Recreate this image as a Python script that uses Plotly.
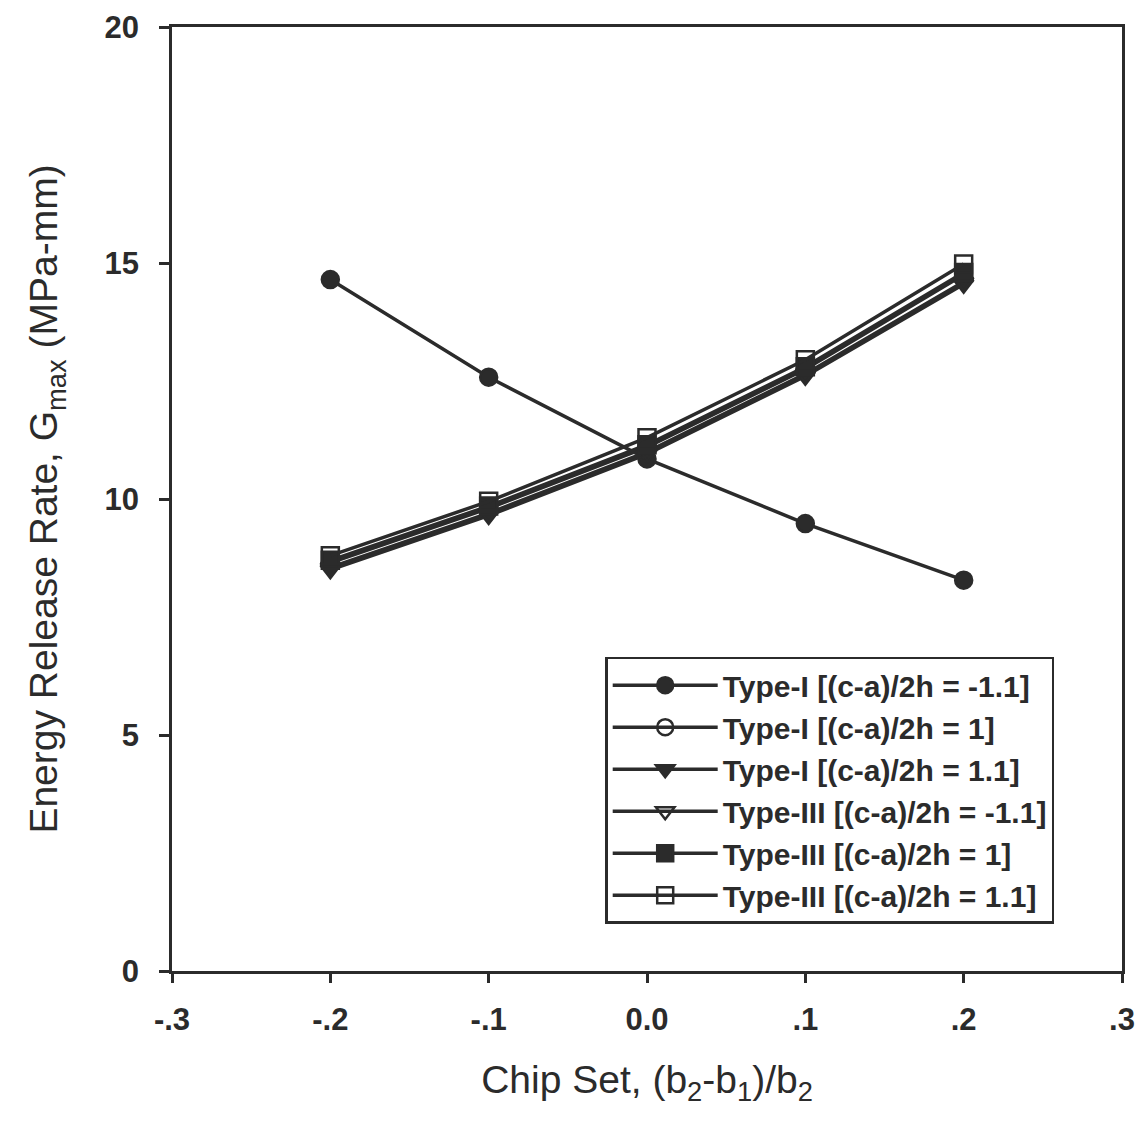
import plotly.graph_objects as go

x_vals = [-0.2, -0.1, 0.0, 0.1, 0.2]

series_names = [
    "Type-I [(c-a)/2h = -1.1]",
    "Type-I [(c-a)/2h = 1]",
    "Type-I [(c-a)/2h = 1.1]",
    "Type-III [(c-a)/2h = -1.1]",
    "Type-III [(c-a)/2h = 1]",
    "Type-III [(c-a)/2h = 1.1]",
]
t1_m11 = [14.65, 12.58, 10.85, 9.48, 8.28]
t1_p1 = [8.65, 9.80, 11.10, 12.75, 14.75]
t1_p11 = [8.50, 9.65, 10.95, 12.60, 14.55]
t3_m11 = [8.55, 9.70, 11.00, 12.65, 14.60]
t3_p1 = [8.70, 9.85, 11.15, 12.80, 14.80]
t3_p11 = [8.80, 9.95, 11.30, 12.95, 14.98]
series_values = [t1_m11, t1_p1, t1_p11, t3_m11, t3_p1, t3_p11]
symbols = ["circle", "circle-open", "triangle-down", "triangle-down-open", "square", "square-open"]

x_ticks = [-0.3, -0.2, -0.1, 0.0, 0.1, 0.2, 0.3]
x_ticktext = ["-.3", "-.2", "-.1", "0.0", ".1", ".2", ".3"]
y_ticks = [0, 5, 10, 15, 20]

ink = "#2b2b2b"
fig = go.Figure()
for i, (name, vals, sym) in enumerate(zip(series_names, series_values, symbols)):
    fig.add_trace(go.Scatter(
        x=x_vals, y=vals, name=name, mode="lines+markers",
        legendgroup=f"g{i}",
        line=dict(color=ink, width=3.5),
        marker=dict(symbol=sym, size=17, color=ink,
                    line=dict(color=ink, width=2.5)),
    ))

fig.update_layout(
    width=1137, height=1129,
    margin=dict(l=172, r=15, t=27, b=158),
    plot_bgcolor="white", paper_bgcolor="white",
    font=dict(family="Liberation Sans, Arial", color=ink, size=28),
    showlegend=True,
    legend=dict(
        x=0.456, y=0.333, xanchor="left", yanchor="top",
        bgcolor="white", bordercolor=ink, borderwidth=2.5,
        font=dict(size=30, color=ink, weight="bold"),
        tracegroupgap=0, itemwidth=105,
    ),
    xaxis=dict(
        range=[-0.3, 0.3], tickvals=x_ticks, ticktext=x_ticktext,
        ticks="outside", ticklen=9, tickwidth=2.5, tickcolor=ink,
        showline=True, linecolor=ink, linewidth=2.5, mirror=True,
        showgrid=False, zeroline=False, automargin=False,
        tickfont=dict(size=31, weight="bold"), ticklabelstandoff=10,
        title=dict(text="Chip Set, (b<sub>2</sub>-b<sub>1</sub>)/b<sub>2</sub>",
                   font=dict(size=39), standoff=30),
    ),
    yaxis=dict(
        range=[0, 20], tickvals=y_ticks,
        ticks="outside", ticklen=10, tickwidth=2.5, tickcolor=ink,
        showline=True, linecolor=ink, linewidth=2.5, mirror=True,
        showgrid=False, zeroline=False, automargin=False,
        tickfont=dict(size=31, weight="bold"), ticklabelstandoff=14,
        title=dict(text="Energy Release Rate, G<sub>max</sub> (MPa-mm)",
                   font=dict(size=39), standoff=35),
    ),
)

fig.write_html("out.html")
